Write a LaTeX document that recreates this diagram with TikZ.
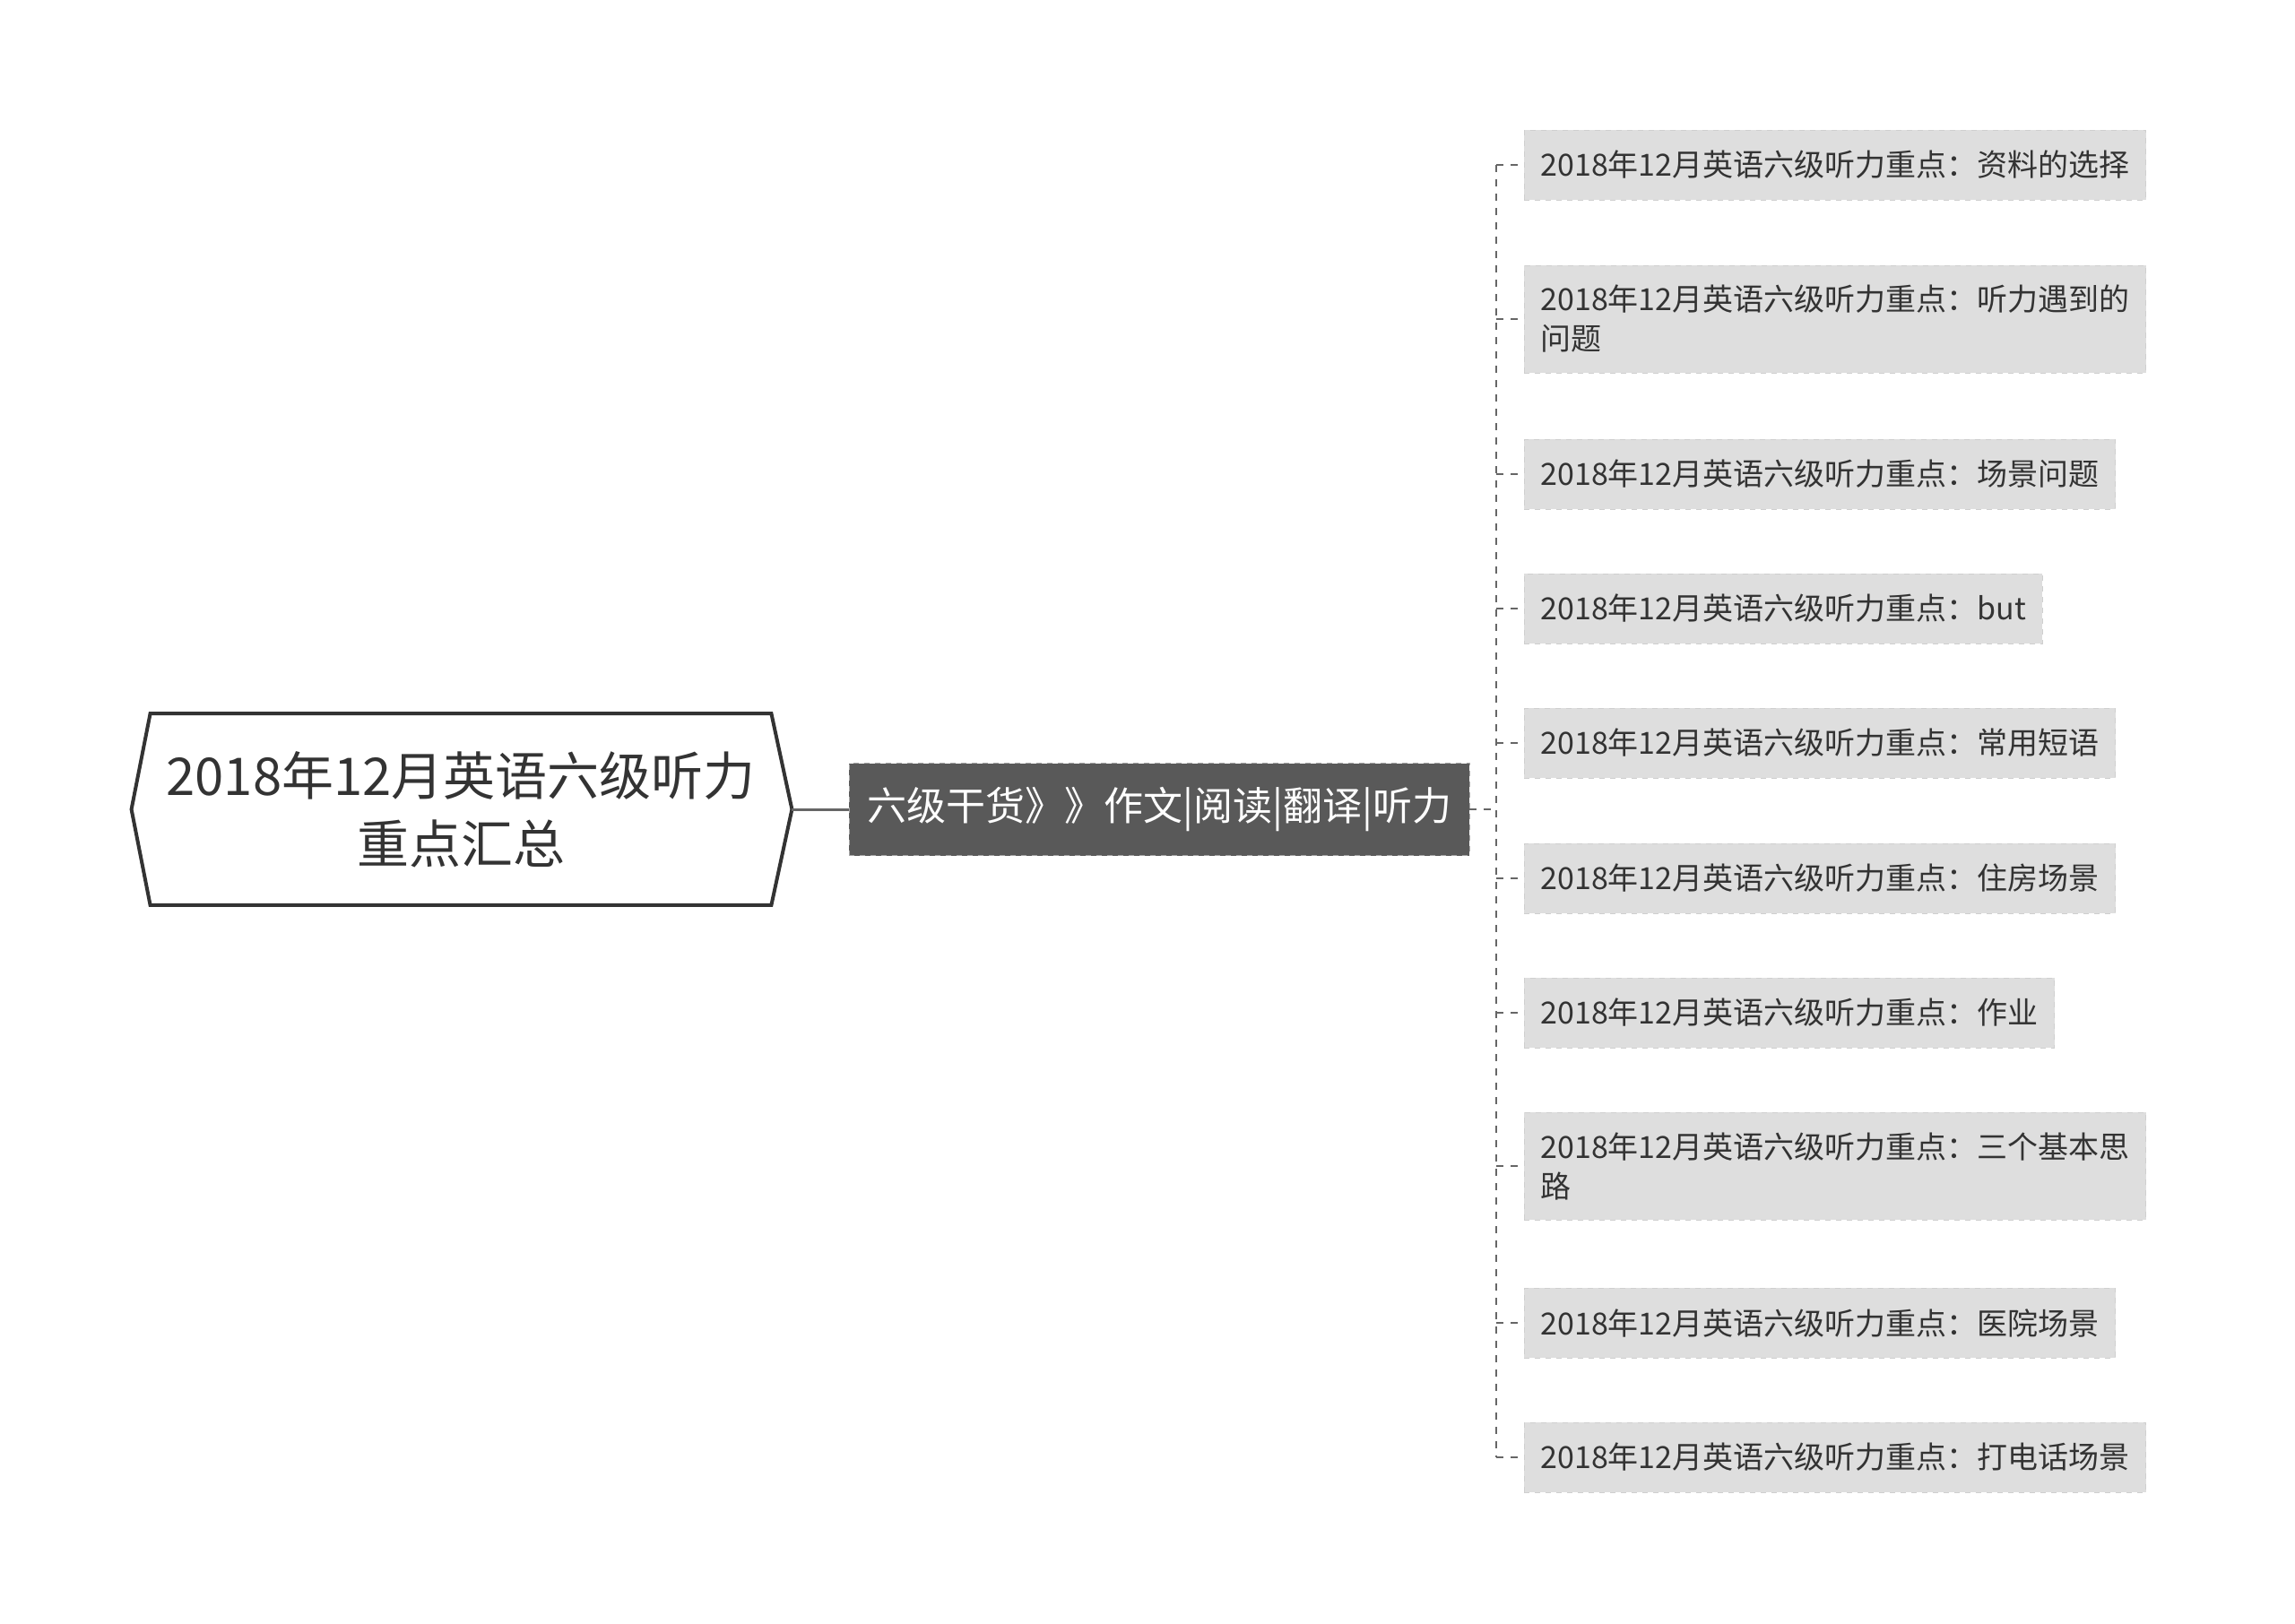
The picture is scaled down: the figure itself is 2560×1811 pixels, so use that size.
\documentclass[tikz,border=0pt]{standalone}
\usepackage{fontspec}
\newfontfamily\cjk{Noto Sans CJK SC}
\usepackage{xcolor}
\usepackage{tikz}
\usetikzlibrary{calc,positioning}
\definecolor{inkgray}{HTML}{333333}
\definecolor{midfill}{HTML}{595959}
\definecolor{leaffill}{HTML}{DEDEDE}
\definecolor{leafedge}{HTML}{CFCFCF}
\definecolor{linegray}{HTML}{666666}
\tikzset{
  rootnode/.style={rectangle, inner sep=0pt, align=center, text=inkgray, minimum width=346pt, minimum height=106.5pt, font=\cjk\fontsize{29}{38}\selectfont},
  rootline/.style={draw=inkgray, line width=2pt, line join=miter},
  midnode/.style={rectangle, anchor=west, draw=gray!70, dashed, fill=midfill, text=white, inner xsep=10pt, minimum height=51.5pt, font=\cjk\fontsize{22}{26}\selectfont},
  leafnode/.style={rectangle, anchor=west, align=left, draw=leafedge, dashed, fill=leaffill, text=inkgray, inner xsep=9pt, minimum height=39pt, font=\cjk\fontsize{17}{22}\selectfont},
  link/.style={draw=linegray, line width=1.5pt},
  dlink/.style={draw=linegray, line width=1pt, dash pattern=on 4pt off 4pt}
}
\begin{document}
\begin{tikzpicture}[x=0.5pt,y=-0.5pt]
  \useasboundingbox (0,0) rectangle (2560,1811);
  % root
  \node[rootnode] (root) at (514,903) {2018年12月英语六级听力\\重点汇总};
  \draw[rootline] (root.north west) -- (root.north east) -- ([xshift=11.5pt]root.east)
    -- (root.south east) -- (root.south west) -- ([xshift=-10.5pt]root.west) -- cycle;
  % middle
  \node[midnode] (mid) at (947,903) {六级干货》》作文|阅读|翻译|听力};
  % leaves
  \node[leafnode] (l1) at (1700,184) {2018年12月英语六级听力重点：资料的选择};
  \node[leafnode, minimum height=60pt] (l2) at (1700,356) {2018年12月英语六级听力重点：听力遇到的\\问题};
  \node[leafnode] (l3) at (1700,529) {2018年12月英语六级听力重点：场景问题};
  \node[leafnode] (l4) at (1700,679) {2018年12月英语六级听力重点：but};
  \node[leafnode] (l5) at (1700,829) {2018年12月英语六级听力重点：常用短语};
  \node[leafnode] (l6) at (1700,980) {2018年12月英语六级听力重点：住房场景};
  \node[leafnode] (l7) at (1700,1130) {2018年12月英语六级听力重点：作业};
  \node[leafnode, minimum height=60pt] (l8) at (1700,1301) {2018年12月英语六级听力重点：三个基本思\\路};
  \node[leafnode] (l9) at (1700,1476) {2018年12月英语六级听力重点：医院场景};
  \node[leafnode] (l10) at (1700,1626) {2018年12月英语六级听力重点：打电话场景};
  % connectors
  \coordinate (hub) at (1669,903);
  \draw[link] ([xshift=11.5pt]root.east) -- (mid.west);
  \draw[dlink] (mid.east) -- (hub);
  \draw[dlink] (hub |- l1.west) -- (hub |- l10.west);
  \foreach \n in {1,...,10}
    \draw[dlink] (hub |- l\n.west) -- (l\n.west);
\end{tikzpicture}
\end{document}
